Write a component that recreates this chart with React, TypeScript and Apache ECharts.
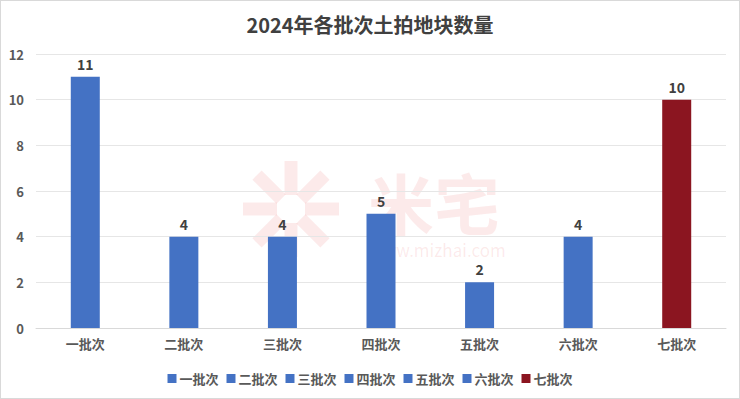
import React, { useEffect, useRef } from "react";
import * as echarts from "echarts";

const categories = ["一批次", "二批次", "三批次", "四批次", "五批次", "六批次", "七批次"];
const values = [11, 4, 4, 5, 2, 4, 10];
const colors = ["#4472C4", "#4472C4", "#4472C4", "#4472C4", "#4472C4", "#4472C4", "#8B1520"];
const yTicks = { min: 0, max: 12, interval: 2 };
const titleText = "2024年各批次土拍地块数量";

const FONT = "'Noto Sans CJK SC', 'Noto Sans', sans-serif";
const WM = "rgba(232,90,90,0.13)";

export default function App() {
  const ref = useRef<HTMLDivElement>(null);
  useEffect(() => {
    document.body.style.margin = "0";
    const chart = echarts.init(ref.current!, null, { renderer: "svg" });
    const series = categories.map((name, i) => ({
      name,
      type: "bar",
      stack: "all",
      barWidth: 29,
      itemStyle: { color: colors[i] },
      label: {
        show: true,
        position: "top",
        distance: 6,
        color: "#404040",
        fontSize: 14,
        fontWeight: "bold",
        fontFamily: FONT,
      },
      data: categories.map((_, j) => (j === i ? values[i] : "-")),
      z: 3,
    }));
    const cx = 290;
    const cy = 208;
    const arms = [0, 45, 90, 135, 180, 225, 270, 315].map((deg) => {
      const a = (deg * Math.PI) / 180;
      return {
        type: "line",
        z: -1,
        shape: {
          x1: cx + Math.cos(a) * 14,
          y1: cy + Math.sin(a) * 14,
          x2: cx + Math.cos(a) * 48,
          y2: cy + Math.sin(a) * 48,
        },
        style: { stroke: WM, lineWidth: 13 },
      };
    });
    chart.setOption({
      animation: false,
      backgroundColor: "#ffffff",
      title: {
        text: titleText,
        left: "center",
        top: 8,
        textStyle: { color: "#404040", fontSize: 20, fontWeight: "bold", fontFamily: FONT },
      },
      legend: {
        bottom: 8,
        left: "center",
        itemWidth: 9,
        itemHeight: 9,
        itemGap: 8,
        icon: "rect",
        textStyle: { color: "#595959", fontSize: 13, fontWeight: "bold", fontFamily: FONT, padding: [0, 0, 0, -2] },
        data: categories,
      },
      grid: { left: 35, right: 13, top: 53, bottom: 70, containLabel: false },
      xAxis: {
        type: "category",
        data: categories,
        axisLine: { lineStyle: { color: "#D9D9D9" } },
        axisTick: { show: false },
        axisLabel: { color: "#595959", fontSize: 13, fontWeight: "bold", fontFamily: FONT, margin: 9 },
      },
      yAxis: {
        type: "value",
        min: yTicks.min,
        max: yTicks.max,
        interval: yTicks.interval,
        axisLine: { show: false },
        axisTick: { show: false },
        splitLine: { lineStyle: { color: "#E6E6E6" } },
        axisLabel: { color: "#595959", fontSize: 13, fontWeight: "bold", fontFamily: FONT, margin: 12 },
      },
      graphic: [
        ...arms,
        {
          type: "text",
          left: 367,
          top: 167,
          z: -1,
          style: { text: "米宅", fill: WM, font: `bold 66px ${FONT}`, lineHeight: 64 },
        },
        {
          type: "text",
          left: 368,
          top: 240,
          z: -1,
          style: { text: "www.mizhai.com", fill: WM, font: `17px ${FONT}`, lineHeight: 17 },
        },
      ],
      series,
    });
    return () => chart.dispose();
  }, []);
  return (
    <div
      ref={ref}
      style={{
        position: "absolute",
        left: 0,
        top: 0,
        width: 740,
        height: 399,
        boxSizing: "border-box",
        border: "1px solid #D9D9D9",
      }}
    />
  );
}
